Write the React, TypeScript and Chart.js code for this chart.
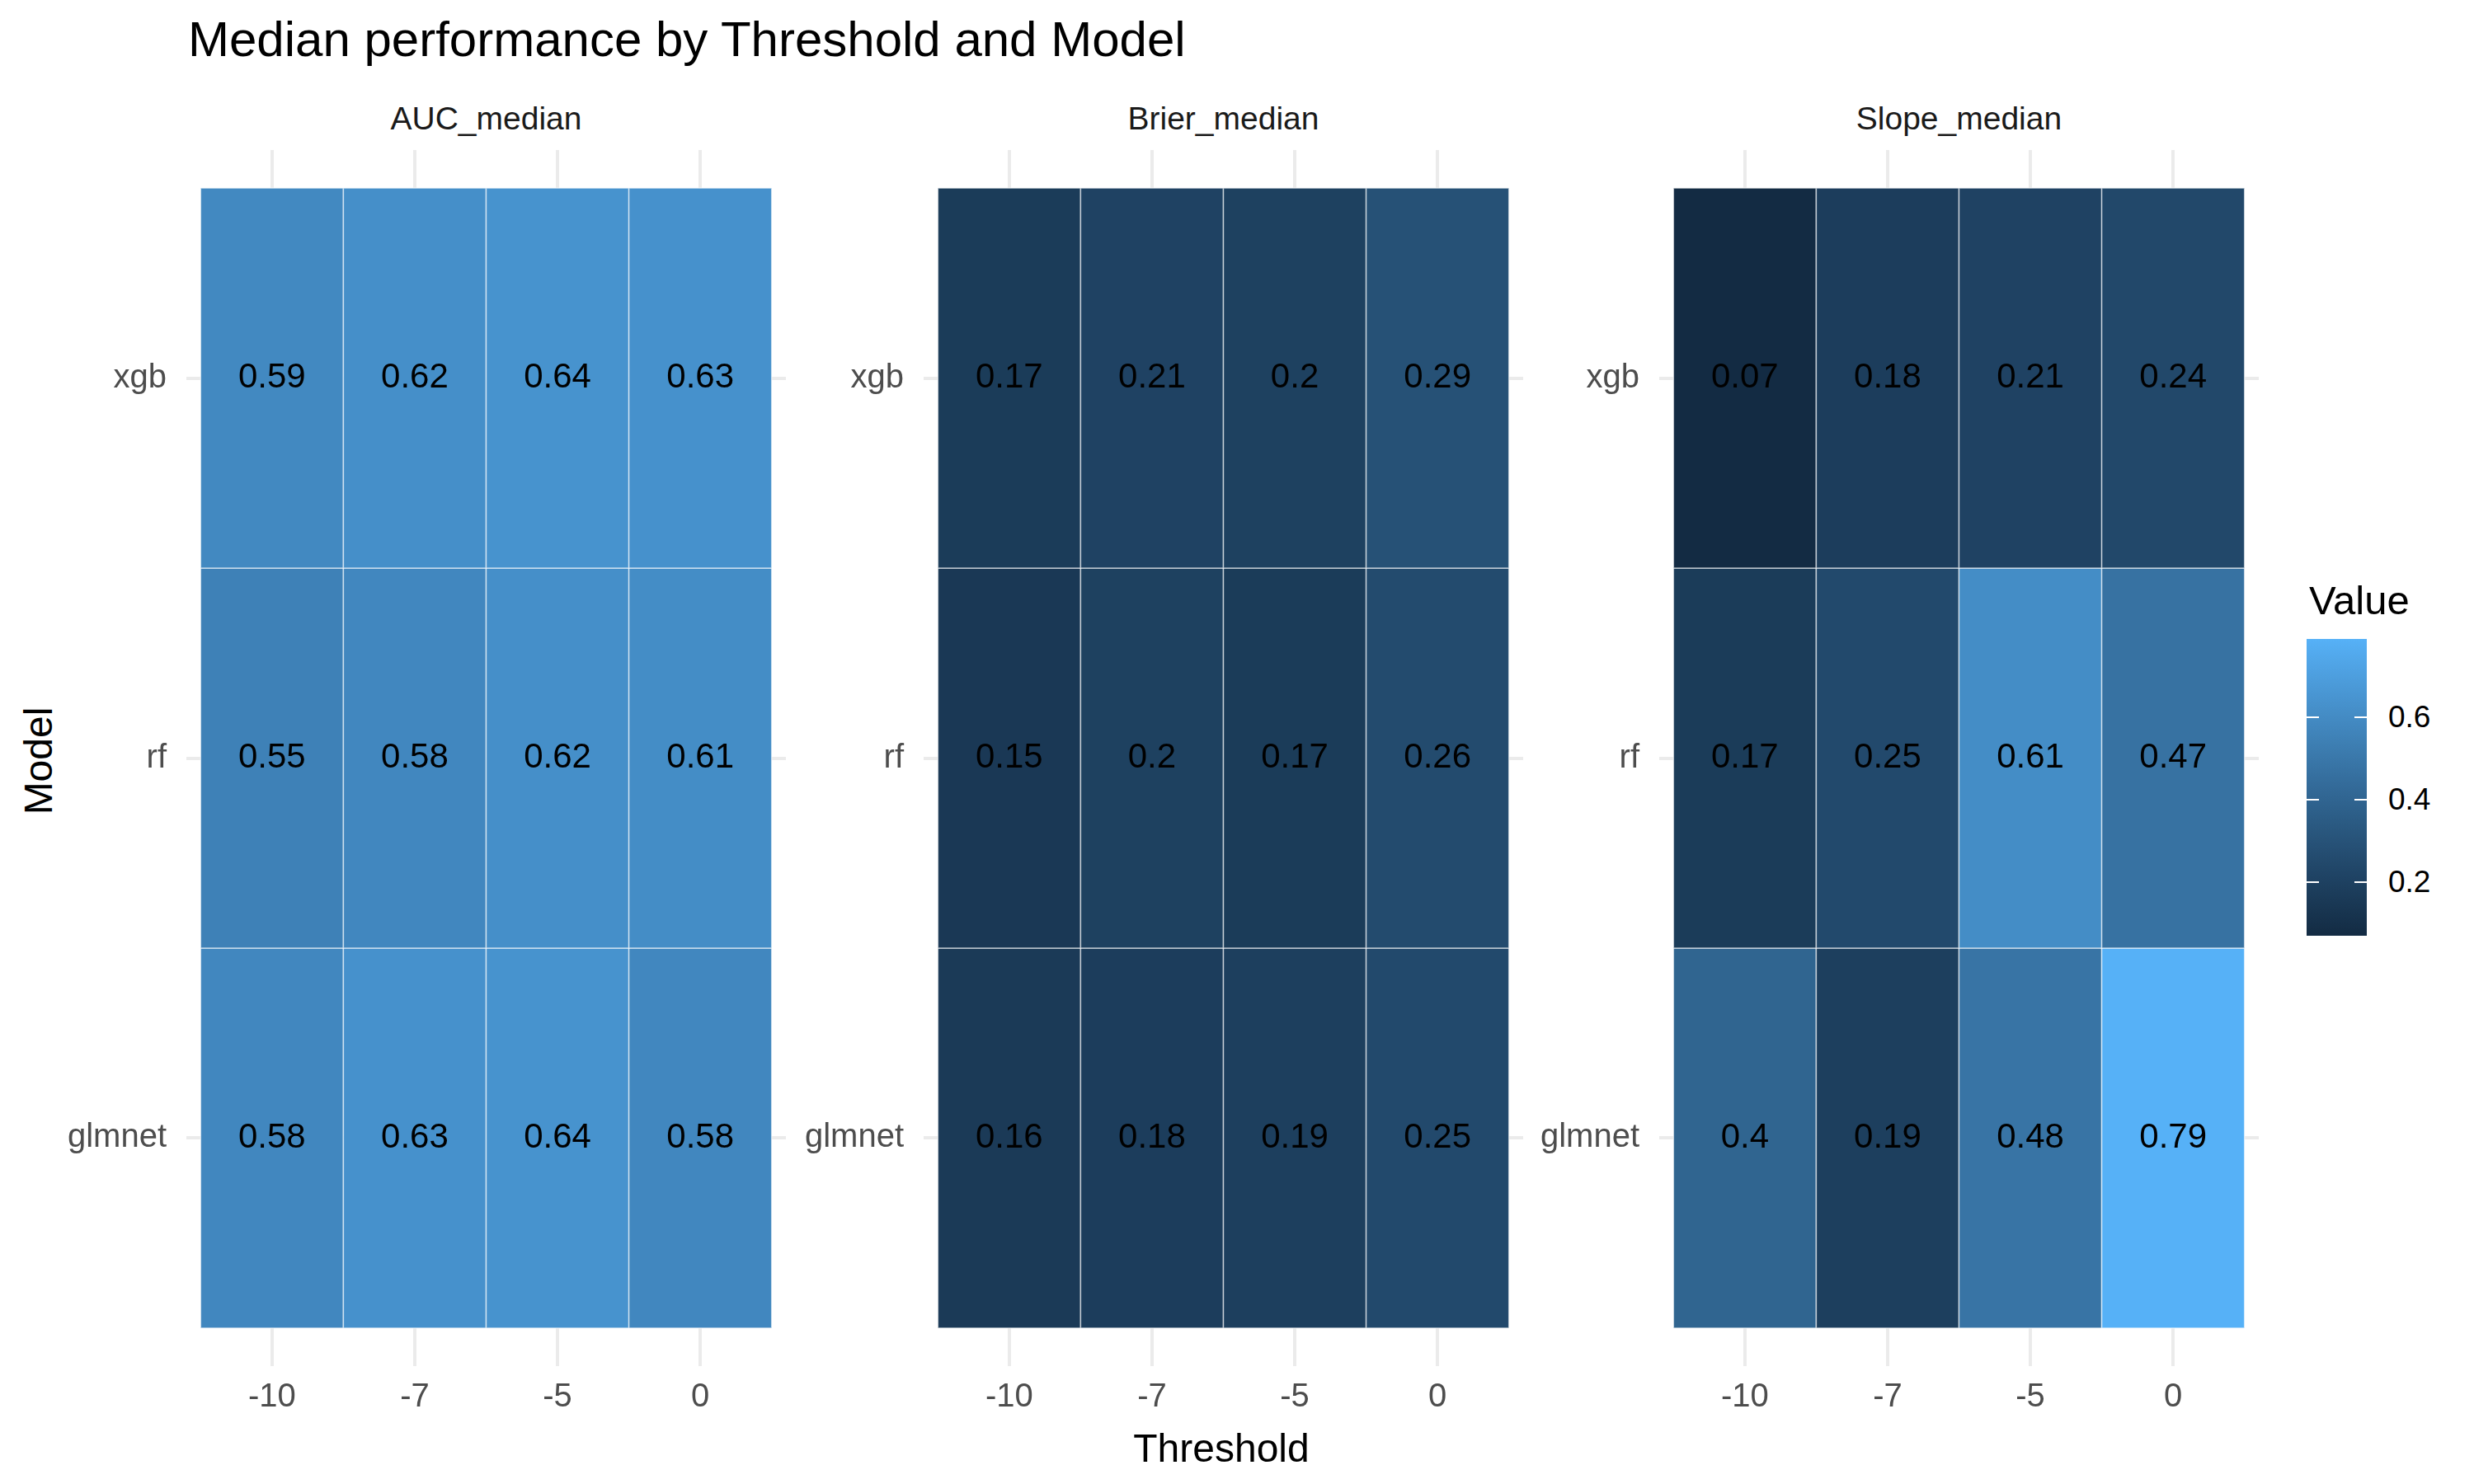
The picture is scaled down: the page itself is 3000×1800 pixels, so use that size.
import React, { useEffect, useRef } from "react";
import { Chart, registerables } from "chart.js";
Chart.register(...registerables);

const thresholds = ["-10", "-7", "-5", "0"];
const models = ["glmnet", "rf", "xgb"];
const metrics = ["AUC_median", "Brier_median", "Slope_median"];
const aucXgb = [0.59, 0.62, 0.64, 0.63];
const aucRf = [0.55, 0.58, 0.62, 0.61];
const aucGlmnet = [0.58, 0.63, 0.64, 0.58];
const brierXgb = [0.17, 0.21, 0.2, 0.29];
const brierRf = [0.15, 0.2, 0.17, 0.26];
const brierGlmnet = [0.16, 0.18, 0.19, 0.25];
const slopeXgb = [0.07, 0.18, 0.21, 0.24];
const slopeRf = [0.17, 0.25, 0.61, 0.47];
const slopeGlmnet = [0.4, 0.19, 0.48, 0.79];
const legendTicks = [0.2, 0.4, 0.6];

const panelData = [
  [aucGlmnet, aucRf, aucXgb],
  [brierGlmnet, brierRf, brierXgb],
  [slopeGlmnet, slopeRf, slopeXgb],
];
const allVals = panelData.flat(2);
const vMin = Math.min(...allVals);
const vMax = Math.max(...allVals);

function toLin(c: number) { c /= 255; return c <= 0.04045 ? c / 12.92 : Math.pow((c + 0.055) / 1.055, 2.4); }
function fromLin(c: number) { const v = c <= 0.0031308 ? 12.92 * c : 1.055 * Math.pow(c, 1 / 2.4) - 0.055; return Math.max(0, Math.min(255, Math.round(v * 255))); }
const Xn = 0.95047, Zn = 1.08883;
function f(t: number) { return t > 0.008856 ? Math.cbrt(t) : 7.787 * t + 16 / 116; }
function finv(t: number) { return t > 0.206893 ? t * t * t : (t - 16 / 116) / 7.787; }
function rgb2lab(hex: string) {
  const r = toLin(parseInt(hex.slice(1, 3), 16)), g = toLin(parseInt(hex.slice(3, 5), 16)), b = toLin(parseInt(hex.slice(5, 7), 16));
  const X = 0.4124 * r + 0.3576 * g + 0.1805 * b, Y = 0.2126 * r + 0.7152 * g + 0.0722 * b, Z = 0.0193 * r + 0.1192 * g + 0.9505 * b;
  const fx = f(X / Xn), fy = f(Y), fz = f(Z / Zn);
  return [116 * fy - 16, 500 * (fx - fy), 200 * (fy - fz)];
}
function lab2rgb(L: number, a: number, bb: number) {
  const fy = (L + 16) / 116, fx = fy + a / 500, fz = fy - bb / 200;
  const X = Xn * finv(fx), Y = finv(fy), Z = Zn * finv(fz);
  const r = 3.2406 * X - 1.5372 * Y - 0.4986 * Z, g = -0.9689 * X + 1.8758 * Y + 0.0415 * Z, b = 0.0557 * X - 0.204 * Y + 1.057 * Z;
  return `rgb(${fromLin(r)},${fromLin(g)},${fromLin(b)})`;
}
const lowLab = rgb2lab("#132B43"), highLab = rgb2lab("#56B1F7");
function colorFor(v: number) {
  const t = (v - vMin) / (vMax - vMin);
  return lab2rgb(lowLab[0] + t * (highLab[0] - lowLab[0]), lowLab[1] + t * (highLab[1] - lowLab[1]), lowLab[2] + t * (highLab[2] - lowLab[2]));
}

const FONT = "'Liberation Sans', Arial, sans-serif";
const LABW = 150, LABH = 80;
const panelLefts = [226, 1120, 2012];
const PW = 727, PTOP = 182, PH = 1475;

function Panel({ idx }: { idx: number }) {
  const ref = useRef<HTMLCanvasElement>(null);
  useEffect(() => {
    const vals = panelData[idx];
    const points: any[] = [];
    vals.forEach((row, mi) => row.forEach((v, ti) => points.push({ x: ti + 1, y: mi + 1, v })));
    const tilePlugin = {
      id: "tiles",
      beforeDatasetsDraw(chart: any) {
        const { ctx, scales, chartArea } = chart;
        const xs = scales.x, ys = scales.y;
        ctx.save();
        points.forEach((p) => {
          const x0 = xs.getPixelForValue(p.x - 0.5), x1 = xs.getPixelForValue(p.x + 0.5);
          const y0 = ys.getPixelForValue(p.y + 0.5), y1 = ys.getPixelForValue(p.y - 0.5);
          ctx.fillStyle = colorFor(p.v);
          ctx.fillRect(x0, y0, x1 - x0, y1 - y0);
          ctx.strokeStyle = "rgba(255,255,255,0.6)";
          ctx.lineWidth = 1.5;
          ctx.strokeRect(x0, y0, x1 - x0, y1 - y0);
        });
        ctx.fillStyle = "#000";
        ctx.font = `42px ${FONT}`;
        ctx.textAlign = "center";
        ctx.textBaseline = "middle";
        points.forEach((p) => {
          ctx.fillText(String(p.v), xs.getPixelForValue(p.x), ys.getPixelForValue(p.y));
        });
        ctx.fillStyle = "#4d4d4d";
        ctx.font = `40px ${FONT}`;
        thresholds.forEach((t, i) => ctx.fillText(t, xs.getPixelForValue(i + 1), chartArea.bottom + 38));
        ctx.textAlign = "right";
        models.forEach((m, i) => ctx.fillText(m, chartArea.left - 24, ys.getPixelForValue(i + 1)));
        ctx.restore();
      },
    };
    const chart = new Chart(ref.current!, {
      type: "scatter",
      data: { datasets: [{ data: points, pointRadius: 0 }] },
      options: {
        animation: false,
        responsive: false,
        devicePixelRatio: 1,
        layout: { padding: 0 },
        plugins: { legend: { display: false }, tooltip: { enabled: false } },
        scales: {
          x: {
            type: "linear", min: 0.4, max: 4.6,
            afterBuildTicks: (s: any) => { s.ticks = thresholds.map((_, i) => ({ value: i + 1 })); },
            afterFit: (s: any) => { s.height = LABH; s.paddingLeft = 0; s.paddingRight = 0; },
            ticks: { display: false },
            grid: { color: "#ebebeb", lineWidth: 4, drawTicks: false },
            border: { display: false },
          },
          y: {
            type: "linear", min: 0.4, max: 3.6,
            afterBuildTicks: (s: any) => { s.ticks = models.map((_, i) => ({ value: i + 1 })); },
            afterFit: (s: any) => { s.width = LABW; s.paddingTop = 0; s.paddingBottom = 0; },
            ticks: { display: false },
            grid: { color: "#ebebeb", lineWidth: 4, drawTicks: false },
            border: { display: false },
          },
        },
      },
      plugins: [tilePlugin],
    } as any);
    return () => chart.destroy();
  }, [idx]);
  return (
    <>
      <div style={{ position: "absolute", left: panelLefts[idx], top: 122, width: PW, textAlign: "center", fontSize: 39, color: "#1a1a1a", fontFamily: FONT }}>{metrics[idx]}</div>
      <canvas ref={ref} width={PW + LABW} height={PH + LABH} style={{ position: "absolute", left: panelLefts[idx] - LABW, top: PTOP, width: PW + LABW, height: PH + LABH }} />
    </>
  );
}

export default function App() {
  const barTop = 775, barH = 360;
  return (
    <div style={{ position: "relative", width: 3000, height: 1800, background: "#fff", fontFamily: FONT, margin: -8, overflow: "hidden" }}>
      <div style={{ position: "absolute", left: 228, top: 13, fontSize: 60, color: "#000", whiteSpace: "nowrap" }}>Median performance by Threshold and Model</div>
      {[0, 1, 2].map((i) => <Panel key={i} idx={i} />)}
      <div style={{ position: "absolute", left: 46, top: 923, transform: "translate(-50%,-50%) rotate(-90deg)", fontSize: 48, whiteSpace: "nowrap" }}>Model</div>
      <div style={{ position: "absolute", left: 1481, top: 1756, transform: "translate(-50%,-50%)", fontSize: 48 }}>Threshold</div>
      <div style={{ position: "absolute", left: 2800, top: 700, fontSize: 49 }}>Value</div>
      <div style={{ position: "absolute", left: 2797, top: barTop, width: 73, height: barH, background: `linear-gradient(to top, ${Array.from({ length: 11 }, (_, k) => colorFor(vMin + (k / 10) * (vMax - vMin))).join(",")})` }} />
      {legendTicks.map((t) => {
        const y = barTop + barH * (1 - (t - vMin) / (vMax - vMin));
        return (
          <React.Fragment key={t}>
            <div style={{ position: "absolute", left: 2797, top: y - 1, width: 15, height: 2, background: "#fff" }} />
            <div style={{ position: "absolute", left: 2855, top: y - 1, width: 15, height: 2, background: "#fff" }} />
            <div style={{ position: "absolute", left: 2896, top: y - 21, fontSize: 37, color: "#000" }}>{t}</div>
          </React.Fragment>
        );
      })}
    </div>
  );
}
